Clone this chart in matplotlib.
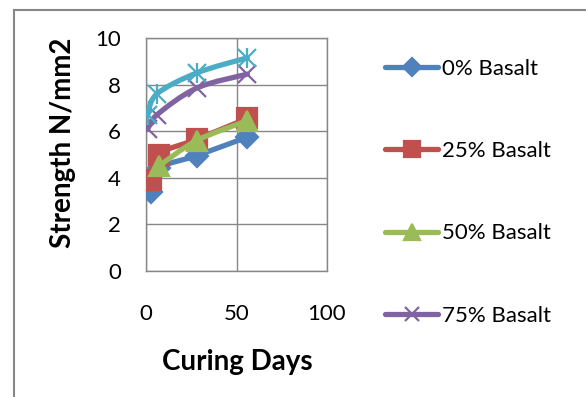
import matplotlib.pyplot as plt
from matplotlib.lines import Line2D
from matplotlib.path import Path
from matplotlib.patches import PathPatch

plt.rcParams['font.family'] = ['Lato', 'DejaVu Sans']

# curing days and strength (N/mm2) per mix
days_0 = [3, 7, 28, 56]
strength_0 = [3.4, 4.4, 4.95, 5.75]
days_25 = [3, 7, 28, 56]
strength_25 = [3.9, 5.0, 5.65, 6.55]
days_50 = [7, 28, 56]
strength_50 = [4.5, 5.6, 6.45]
days_75 = [1, 6, 28, 56]
strength_75 = [6.1, 6.7, 7.85, 8.45]
days_100 = [1, 6, 28, 56]
strength_100 = [6.7, 7.6, 8.5, 9.15]

labels = ['0% Basalt', '25% Basalt', '50% Basalt', '75% Basalt', '100% Basalt']
colors = ['#4F81BD', '#C0504D', '#9BBB59', '#8064A2', '#4BACC6']
xticks = [0, 50, 100]
yticks = [0, 2, 4, 6, 8, 10]


def smooth_path(xs, ys):
    # Catmull-Rom spline through the points, as cubic bezier segments
    pts = list(zip(xs, ys))
    verts = [pts[0]]
    codes = [Path.MOVETO]
    n = len(pts)
    for i in range(n - 1):
        p0 = pts[i - 1] if i > 0 else pts[i]
        p1 = pts[i]
        p2 = pts[i + 1]
        p3 = pts[i + 2] if i + 2 < n else pts[i + 1]
        c1 = (p1[0] + (p2[0] - p0[0]) / 6, p1[1] + (p2[1] - p0[1]) / 6)
        c2 = (p2[0] - (p3[0] - p1[0]) / 6, p2[1] - (p3[1] - p1[1]) / 6)
        verts += [c1, c2, p2]
        codes += [Path.CURVE4] * 3
    return Path(verts, codes)


fig = plt.figure(figsize=(5.86, 3.97), dpi=100)
ax = fig.add_axes([146 / 586, 1 - 271 / 397, 181 / 586, 233 / 397])

series = [(days_0, strength_0, 'D', 11),
          (days_25, strength_25, 's', 14),
          (days_50, strength_50, '^', 15),
          (days_75, strength_75, 'x', 13),
          (days_100, strength_100, 'x', 13)]

handles = []
for i, (xs, ys, mk, ms) in enumerate(series):
    col = colors[i]
    z = 3 + i
    ax.add_patch(PathPatch(smooth_path(xs, ys), fill=False, edgecolor=col,
                           lw=3.8, capstyle='round', zorder=z))
    ax.plot(xs, ys, ls='none', marker=mk, ms=ms, color=col,
            mew=1.6, zorder=z)
    if i == 4:
        ax.plot(xs, ys, ls='none', marker='|', ms=14, color=col,
                mew=1.6, zorder=z)
    handles.append(Line2D([], [], color=col, lw=3.8, marker=mk,
                          ms=ms * 0.8, mew=1.6, solid_capstyle='round'))

ax.set_xlim(0, 100)
ax.set_ylim(0, 10)
ax.set_xticks(xticks)
ax.set_yticks(yticks)
ax.grid(True, color='#878787', lw=1)
ax.set_axisbelow(True)
for s in ax.spines.values():
    s.set_color('#878787')
    s.set_linewidth(1)
ax.tick_params(length=0, labelsize=16)
ax.tick_params(axis='x', pad=24)
ax.tick_params(axis='y', pad=18)

fig.text(237 / 586, 1 - 362 / 397, 'Curing Days', ha='center', va='center',
         fontsize=20, fontweight='bold')
fig.text(63 / 586, 1 - 143 / 397, 'Strength N/mm2', ha='center', va='center',
         rotation=90, fontsize=20, fontweight='bold')

fig.legend(handles[:4], labels[:4], loc='upper left',
           bbox_to_anchor=(385 / 586, 1 - 59 / 397), frameon=False,
           fontsize=16, handlelength=2.4, handletextpad=0.15,
           labelspacing=2.8, borderpad=0, borderaxespad=0)

# outer chart border (left and top edges visible)
fig.add_artist(Line2D([14 / 586, 14 / 586], [0, 1 - 10 / 397],
                      color='#888888', lw=1.5, transform=fig.transFigure))
fig.add_artist(Line2D([14 / 586, 1], [1 - 10 / 397, 1 - 10 / 397],
                      color='#888888', lw=1.5, transform=fig.transFigure))

fig.savefig('out.png', dpi=100)
